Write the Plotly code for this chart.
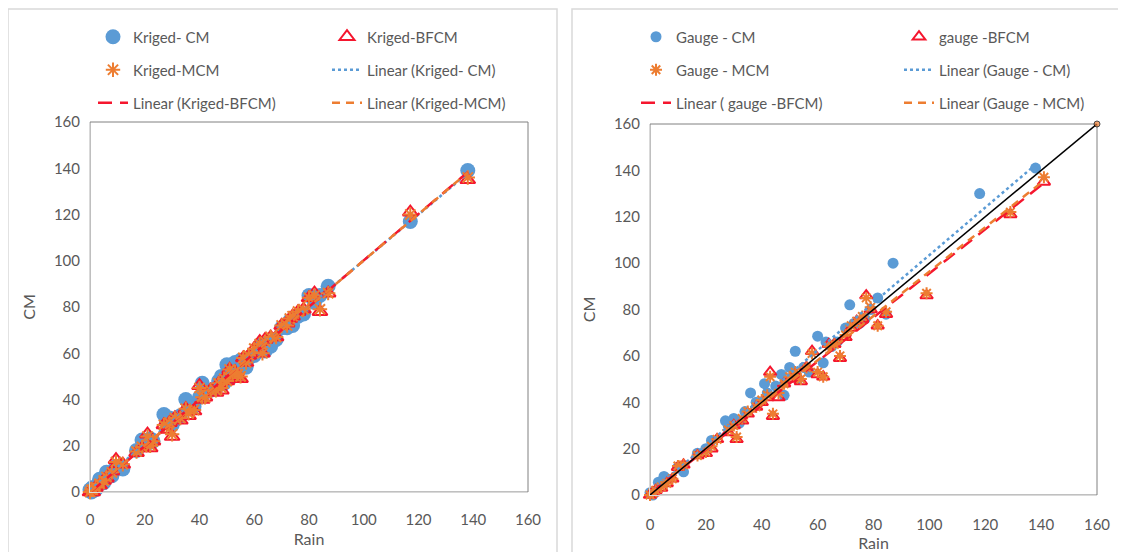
import numpy as np
import plotly.graph_objects as go

# Kriged rainfall (left panel) - one rain value per point, three model estimates
kriged_rain = [0, 0.5, 1, 2, 3.5, 5, 6, 8, 9.5, 12, 17, 19, 21, 22, 23, 27, 28, 29, 30, 31,
               33, 35, 36, 38, 40, 41, 42, 44, 46, 47, 48, 49, 50, 51, 52, 53, 54, 55, 56, 57,
               58, 60, 62, 63, 64, 66, 68, 70, 72, 73, 74, 76, 78, 80, 82, 84, 87, 117, 138]
kriged_cm = [1, 0, 2, 1, 5.5, 4, 8.5, 7, 11, 10, 18, 22.5, 21, 23, 22, 33.5, 30, 32, 29, 31,
             33, 40, 36, 37, 41, 47, 43, 44, 45, 48, 50, 47, 55, 52, 50, 56, 53, 57, 55, 54,
             58, 59, 61, 64, 61, 63, 66, 71, 71, 74, 72, 76, 77, 85, 82, 85, 89, 117, 139]
kriged_bfcm = [0, 1, 0, 2, 3, 5, 6, 9, 14, 12, 17, 19, 25, 19, 22, 29, 27, 30, 24, 32,
               31, 36, 33, 35, 46, 40, 41, 44, 43, 47, 44, 49, 48, 53, 51, 52, 50, 49, 58, 56,
               59, 62, 65, 60, 66, 67, 67, 72, 73, 75, 76, 78, 79, 84, 86, 78, 86, 121, 135]
kriged_mcm = [0, 1, 1, 2, 3.5, 5, 6.5, 8.5, 13, 12, 17.5, 19.5, 24, 20, 22, 29, 28, 30, 25, 32,
              32, 36, 34, 35.5, 45, 41, 41, 44, 44, 47, 45, 49, 48, 53, 51, 52, 51, 50, 58, 56,
              59, 62, 64, 60, 65, 67, 67, 72, 72, 75, 76, 78, 79, 84, 85, 79, 86, 120, 136]

# Gauge rainfall (right panel)
gauge_cm_rain = [0, 1, 3, 5, 6, 10, 12, 17, 20, 22, 27, 28, 30, 32, 34, 36, 38, 41, 42, 45, 47,
                 48, 50, 52, 53, 55, 57, 60, 62, 63, 65, 67, 70, 71.5, 73, 75, 77, 79, 81.5,
                 84.5, 87, 118, 138]
gauge_cm = [1, 0, 5.5, 8, 7, 12, 10, 18, 20, 23.5, 32, 30, 33, 31, 36, 44, 40, 48, 44, 47, 52,
            43, 55, 62, 50, 55, 53, 68.5, 57, 66, 64, 66, 72, 82, 74, 74, 76, 80, 85,
            78, 100, 130, 141]
gauge_rain = [0, 1, 2, 4, 6, 8, 10, 12, 17, 20, 22, 24, 28, 30, 31, 33, 35, 38, 40, 42, 43, 44,
              46, 48, 50, 52, 54, 56, 58, 60, 62, 64, 66, 68, 70, 72, 74, 76, 77.4, 79, 81.5,
              84.5, 99, 129, 141]
gauge_bfcm = [0, 1, 2, 3, 5, 7, 12, 13, 17, 18, 20, 24, 27, 30, 24, 32, 35, 38, 40, 42, 53, 34,
              42, 48, 50, 52, 49, 55, 62, 52, 51, 65, 65, 59, 68, 72, 75, 76, 86, 80, 73,
              78, 86, 121, 135]
gauge_mcm = [0, 1, 2, 3.5, 5, 7, 12.5, 13, 17, 18.5, 21, 24, 28, 30, 25, 33, 36, 38, 41, 43, 51,
             35, 44, 48, 51, 53, 50, 55, 61, 53, 51, 64, 65, 60, 69, 73, 75, 77, 85, 81, 73,
             79, 87, 122, 137]

one_to_one = [0, 160]

BLUE = '#5B9BD5'
RED = '#F5162E'
ORANGE = '#ED7D31'
GREY = '#595959'
FONT = 'Lato'
# page has an 8px body margin, so the figure is 8px smaller than the window
OFF = 8
W, H = 1126 - OFF, 552 - OFF


def trend(x, y):
    # Excel-style linear trendline over the x range of the series
    slope, icpt = np.polyfit(x, y, 1)
    xs = np.array([min(x), max(x)])
    return xs, slope * xs + icpt


def add_panel(fig, ax, names, cm, bfcm, mcm, legends, sizes):
    xa, ya = ('x', 'y') if ax == 1 else ('x2', 'y2')
    fig.add_trace(go.Scatter(x=cm[0], y=cm[1], mode='markers', name=names[0],
                             marker=dict(color=BLUE, size=sizes[0]), cliponaxis=False,
                             xaxis=xa, yaxis=ya, legend=legends[0]))
    fig.add_trace(go.Scatter(x=bfcm[0], y=bfcm[1], mode='markers', name=names[1],
                             marker=dict(symbol='triangle-up-open', color=RED, size=sizes[1],
                                         line=dict(width=2)),
                             cliponaxis=False, xaxis=xa, yaxis=ya, legend=legends[0]))
    fig.add_trace(go.Scatter(x=mcm[0], y=mcm[1], mode='markers', name=names[2],
                             marker=dict(symbol='asterisk-open', color=ORANGE, size=sizes[2],
                                         line=dict(width=2, color=ORANGE)),
                             cliponaxis=False, xaxis=xa, yaxis=ya, legend=legends[1]))
    for (x, y), nm, col, dash, lg in [
            (cm, names[3], BLUE, 'dot', legends[1]),
            (bfcm, names[4], RED, '14px,8px', legends[2]),
            (mcm, names[5], ORANGE, '8px,6px', legends[2])]:
        tx, ty = trend(x, y)
        fig.add_trace(go.Scatter(x=tx, y=ty, mode='lines', name=nm,
                                 line=dict(color=col, width=2.5, dash=dash),
                                 xaxis=xa, yaxis=ya, legend=lg))


fig = go.Figure()
add_panel(fig, 1,
          ['Kriged- CM', 'Kriged-BFCM', 'Kriged-MCM', 'Linear (Kriged- CM)',
           'Linear (Kriged-BFCM)', 'Linear (Kriged-MCM)'],
          (kriged_rain, kriged_cm), (kriged_rain, kriged_bfcm), (kriged_rain, kriged_mcm),
          ['legend', 'legend2', 'legend3'], (15, 13, 12))
add_panel(fig, 2,
          ['Gauge - CM', 'gauge -BFCM', 'Gauge - MCM', 'Linear (Gauge - CM)',
           'Linear ( gauge -BFCM)', 'Linear (Gauge - MCM)'],
          (gauge_cm_rain, gauge_cm), (gauge_rain, gauge_bfcm), (gauge_rain, gauge_mcm),
          ['legend4', 'legend5', 'legend6'], (11, 11, 10))

# 1:1 line on the gauge panel
fig.add_trace(go.Scatter(x=one_to_one, y=one_to_one, mode='lines+markers', showlegend=False,
                         line=dict(color='black', width=1.5),
                         marker=dict(size=[0, 6], color=ORANGE), cliponaxis=False,
                         xaxis='x2', yaxis='y2'))


def px_x(p):
    return (p - OFF) / W


def px_y(p):
    return (H - (p - OFF)) / H


axis_common = dict(range=[0, 160], dtick=20, showgrid=False, zeroline=False,
                   showline=True, linecolor='#D9D9D9', linewidth=1, ticks='',
                   automargin=False,
                   tickfont=dict(family=FONT, size=15, color=GREY),
                   title_font=dict(family=FONT, size=16, color=GREY))

legend_common = dict(orientation='h', xanchor='left', yanchor='middle', entrywidth=189,
                     bgcolor='rgba(0,0,0,0)', font=dict(family=FONT, size=15, color=GREY))

layout = dict(
    width=W, height=H, margin=dict(l=0, r=0, t=0, b=0, autoexpand=False),
    paper_bgcolor='white', plot_bgcolor='white',
    font=dict(family=FONT, color=GREY),
    xaxis=dict(axis_common, domain=[px_x(90), px_x(528)], anchor='y',
               title=dict(text='Rain', standoff=6), ticklabelstandoff=14),
    yaxis=dict(axis_common, domain=[px_y(492), px_y(122)], anchor='x',
               title=dict(text='CM', standoff=14), ticklabelstandoff=6),
    xaxis2=dict(axis_common, domain=[px_x(650), px_x(1097)], anchor='y2',
                title=dict(text='Rain', standoff=6), ticklabelstandoff=16),
    yaxis2=dict(axis_common, domain=[px_y(495), px_y(124)], anchor='x2',
                title=dict(text='CM', standoff=14), ticklabelstandoff=6),
    showlegend=True,
)

rows = [37, 70, 103]
for i, r in enumerate(rows):
    key = 'legend' if i == 0 else f'legend{i + 1}'
    layout[key] = dict(legend_common, x=px_x(93), y=px_y(r))
    layout[f'legend{i + 4}'] = dict(legend_common, x=px_x(636), y=px_y(r), entrywidth=218)

fig.update_layout(**layout)

# chart borders and plot-area frames
for x0, x1 in [(OFF, 557), (572, 1140)]:
    fig.add_shape(type='rect', xref='paper', yref='paper', x0=px_x(x0), x1=px_x(x1),
                  y0=-0.03, y1=px_y(OFF + 1), line=dict(color='#D9D9D9', width=1.5),
                  layer='below')
fig.add_shape(type='rect', xref='x domain', yref='y domain', x0=0, x1=1, y0=0, y1=1,
              line=dict(color='#808080', width=1), layer='below')
fig.add_shape(type='rect', xref='x2 domain', yref='y2 domain', x0=0, x1=1, y0=0, y1=1,
              line=dict(color='#808080', width=1), layer='below')

fig.write_html("out.html")
